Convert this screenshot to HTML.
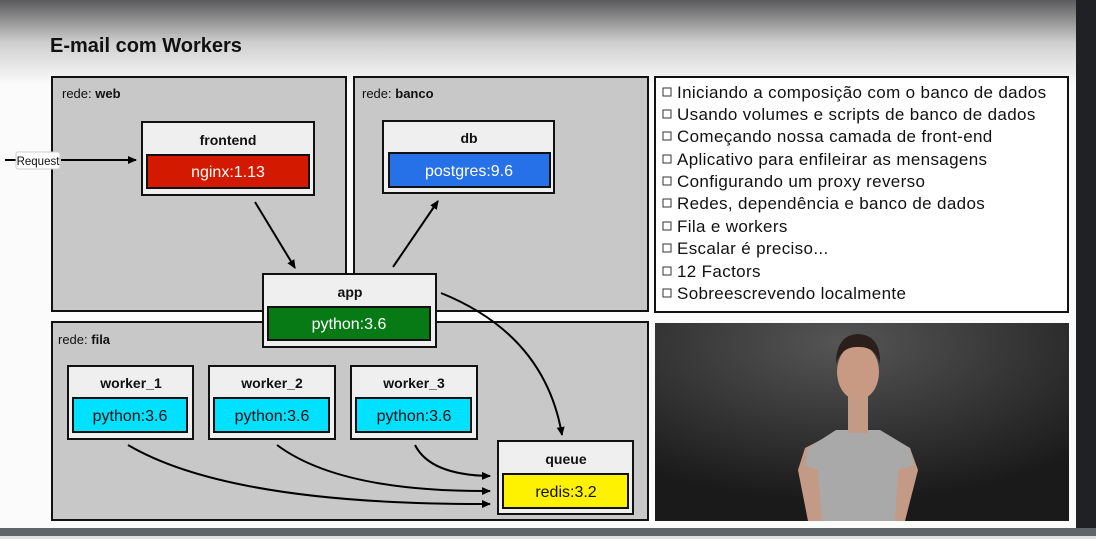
<!DOCTYPE html>
<html><head><meta charset="utf-8"><style>
body{margin:0;width:1096px;height:539px;overflow:hidden;background:#fff;font-family:"Liberation Sans",sans-serif}
</style></head><body>
<svg width="1096" height="539" xmlns="http://www.w3.org/2000/svg" font-family="Liberation Sans, sans-serif">
<defs>
<linearGradient id="bg" x1="0" y1="0" x2="0" y2="1">
<stop offset="0" stop-color="#5a5a5c"/><stop offset="0.5" stop-color="#cfcfcf"/><stop offset="1" stop-color="#fbfbfb"/>
</linearGradient>
<radialGradient id="vid" cx="0.45" cy="0.1" r="0.8">
<stop offset="0" stop-color="#555"/><stop offset="1" stop-color="#1a1a1a"/>
</radialGradient>
<marker id="ah" markerWidth="10" markerHeight="10" refX="8" refY="5" orient="auto" markerUnits="userSpaceOnUse">
<path d="M0,1 L9,5 L0,9 z" fill="#000"/></marker>
</defs>
<rect width="1096" height="539" fill="#fbfbfb"/>
<rect width="1096" height="85" fill="url(#bg)"/>
<rect x="1076" y="0" width="20" height="539" fill="#202124"/>
<rect x="0" y="528" width="1096" height="8" fill="#60656a"/>
<rect x="0" y="536" width="1096" height="3" fill="#e0e0e0"/>
<text x="50" y="52" font-size="20" font-weight="bold" fill="#111">E-mail com Workers</text>

<g stroke="#111" stroke-width="2" fill="#c8c8c8">
<rect x="52" y="77" width="294" height="234"/>
<rect x="354" y="77" width="294" height="234"/>
<rect x="52" y="322" width="596" height="198"/>
</g>
<rect x="655" y="77" width="413" height="235" fill="#fff" stroke="#111" stroke-width="2"/>
<rect x="655" y="323" width="414" height="198" fill="url(#vid)"/>
<!-- person -->
<g>
<path d="M808,521 L798,470 L805,448 L836,432 L880,432 L910,448 L918,470 L905,521 Z" fill="#c39a85"/>
<path d="M822,521 L818,470 L805,465 L808,448 L836,430 L880,430 L910,448 L914,465 L898,470 L895,521 Z" fill="#a9a9a9"/>
<rect x="848" y="395" width="20" height="38" fill="#c39a85"/>
<ellipse cx="858" cy="372" rx="21" ry="28" fill="#c99a83"/>
<path d="M836,364 Q836,335 858,334 Q881,335 880,364 Q875,346 858,347 Q842,346 836,364Z" fill="#2a1f1a"/>
</g>
<g font-size="13" fill="#111">
<text x="62" y="98">rede: <tspan font-weight="bold">web</tspan></text>
<text x="362" y="98">rede: <tspan font-weight="bold">banco</tspan></text>
<text x="58" y="344">rede: <tspan font-weight="bold">fila</tspan></text>
</g>
<g font-size="17" fill="#111" letter-spacing="0.35">
<text x="677" y="98">Iniciando a composição com o banco de dados</text>
<text x="677" y="120">Usando volumes e scripts de banco de dados</text>
<text x="677" y="142">Começando nossa camada de front-end</text>
<text x="677" y="165">Aplicativo para enfileirar as mensagens</text>
<text x="677" y="187">Configurando um proxy reverso</text>
<text x="677" y="209">Redes, dependência e banco de dados</text>
<text x="677" y="232">Fila e workers</text>
<text x="677" y="254">Escalar é preciso...</text>
<text x="677" y="277">12 Factors</text>
<text x="677" y="299">Sobreescrevendo localmente</text>
</g>
<g fill="#fff" stroke="#333" stroke-width="1">
<rect x="663" y="88" width="8" height="8"/><rect x="663" y="110" width="8" height="8"/><rect x="663" y="132" width="8" height="8"/><rect x="663" y="155" width="8" height="8"/><rect x="663" y="177" width="8" height="8"/><rect x="663" y="199" width="8" height="8"/><rect x="663" y="222" width="8" height="8"/><rect x="663" y="244" width="8" height="8"/><rect x="663" y="267" width="8" height="8"/><rect x="663" y="289" width="8" height="8"/>
</g>

<!-- nodes -->
<g stroke="#111" stroke-width="2">
<rect x="142" y="122" width="172" height="73" fill="#efefef"/>
<rect x="147" y="155" width="162" height="33" fill="#d31a00"/>
<rect x="383" y="121" width="171" height="72" fill="#efefef"/>
<rect x="389" y="153" width="161" height="34" fill="#2670e8"/>
<rect x="263" y="274" width="173" height="73" fill="#efefef"/>
<rect x="268" y="307" width="162" height="33" fill="#077a16"/>
<rect x="68" y="366" width="125" height="73" fill="#efefef"/>
<rect x="73" y="398" width="114" height="34" fill="#00e0ff"/>
<rect x="209" y="366" width="126" height="73" fill="#efefef"/>
<rect x="214" y="398" width="115" height="34" fill="#00e0ff"/>
<rect x="351" y="366" width="126" height="73" fill="#efefef"/>
<rect x="356" y="398" width="115" height="34" fill="#00e0ff"/>
<rect x="498" y="441" width="135" height="73" fill="#efefef"/>
<rect x="503" y="474" width="125" height="34" fill="#fff200"/>
</g>
<g font-size="14" font-weight="bold" fill="#111" text-anchor="middle">
<text x="228" y="145">frontend</text><text x="469" y="143">db</text><text x="350" y="297">app</text>
<text x="131" y="388">worker_1</text><text x="272" y="388">worker_2</text><text x="414" y="388">worker_3</text>
<text x="566" y="464">queue</text>
</g>
<g font-size="16" text-anchor="middle">
<text x="228" y="177" fill="#fff">nginx:1.13</text>
<text x="469" y="176" fill="#fff">postgres:9.6</text>
<text x="349" y="329" fill="#fff">python:3.6</text>
<text x="130" y="421" fill="#111">python:3.6</text>
<text x="272" y="421" fill="#111">python:3.6</text>
<text x="414" y="421" fill="#111">python:3.6</text>
<text x="566" y="497" fill="#111">redis:3.2</text>
</g>

<!-- connectors -->
<g stroke="#000" stroke-width="2" fill="none" marker-end="url(#ah)">
<path d="M61,160 L136,160"/>
<path d="M255,202 L295,268"/>
<path d="M393,267 L438,201"/>
<path d="M441,293 Q545,335 562,435"/>
<path d="M415,445 Q430,475 490,476"/>
<path d="M277,445 Q340,492 490,491"/>
<path d="M128,445 Q230,505 490,504"/>
</g>
<line x1="5" y1="160" x2="17" y2="160" stroke="#000" stroke-width="2"/>
<rect x="16" y="152" width="44" height="17" rx="2" fill="#fff" stroke="#ccc"/>
<text x="38" y="165" font-size="11.5" text-anchor="middle" fill="#111">Request</text>
</svg>
</body></html>
